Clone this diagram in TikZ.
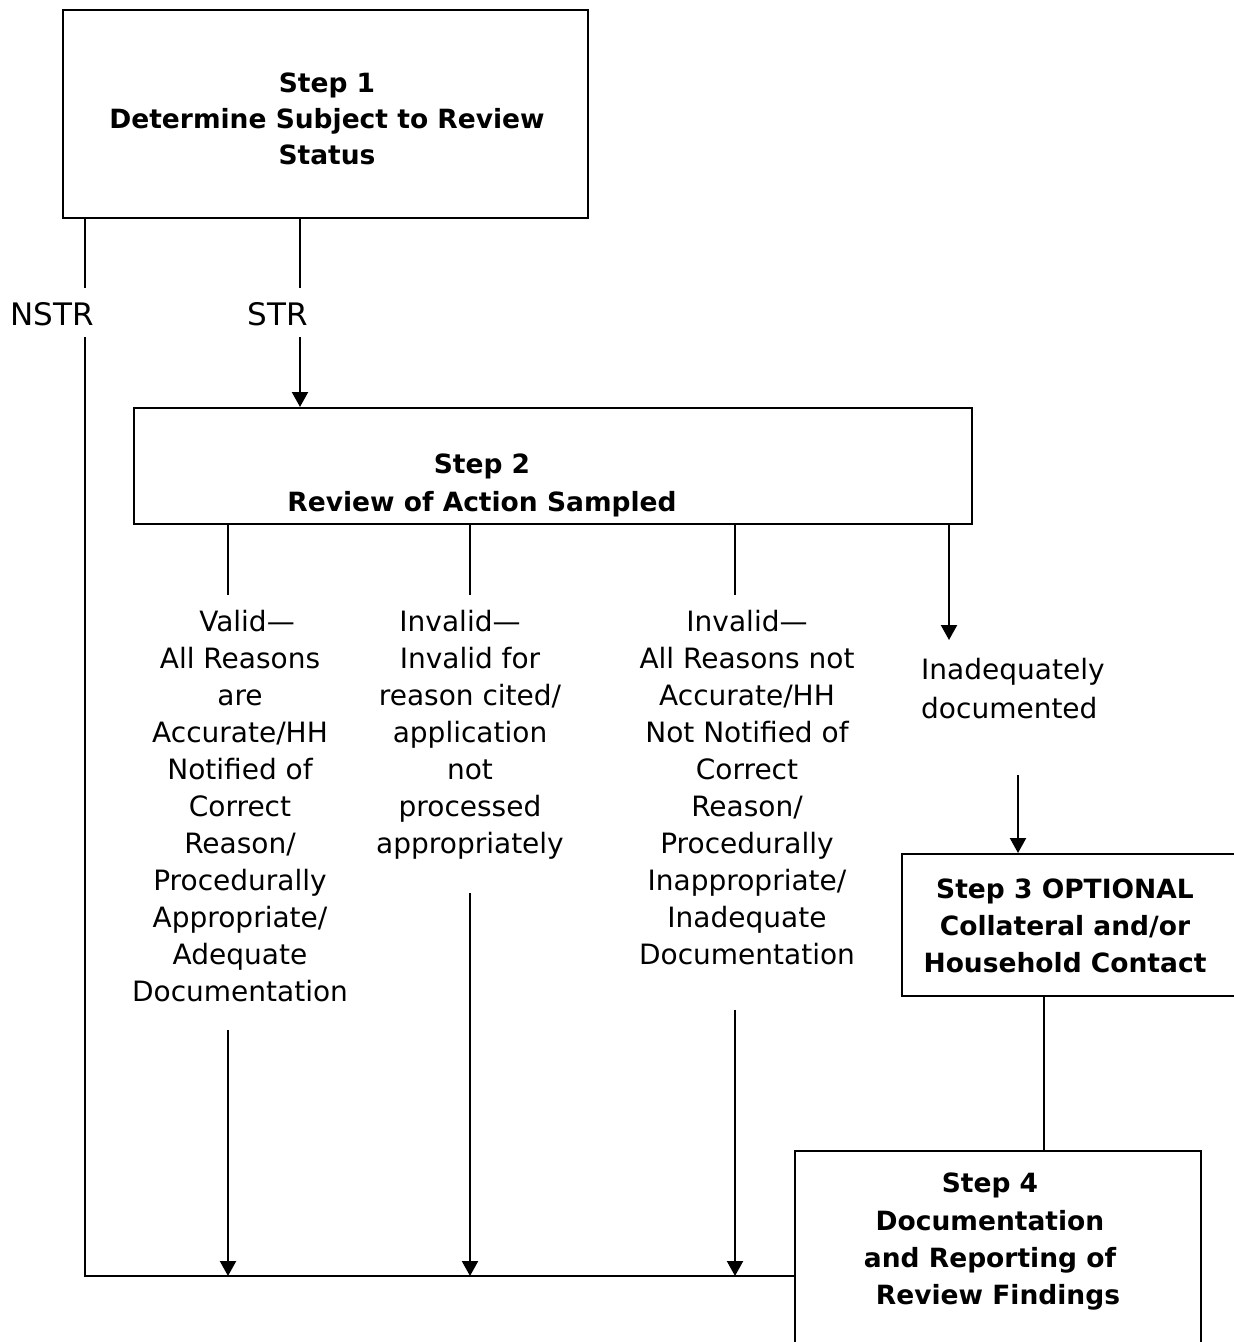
\documentclass[tikz,border=0pt]{standalone}
\usepackage{fontspec}
\setmainfont{DejaVu Sans}
\usetikzlibrary{arrows.meta}
\begin{document}
\begin{tikzpicture}[x=1pt,y=-1pt,
  box/.style={draw,line width=2.4pt,inner sep=0pt,anchor=north west},
  boxtext/.style={font=\bfseries\fontsize{26.5}{37}\selectfont,align=center,inner sep=0pt,anchor=north},
  lbl/.style={font=\fontsize{28}{37.05}\selectfont,align=center,inner sep=0pt,anchor=north},
  branch/.style={font=\fontsize{31}{37}\selectfont,fill=white,inner sep=0pt,text height=37pt,text depth=12pt,anchor=base},
  conn/.style={line width=2.2pt},
  arr/.style={conn,-{Triangle[length=15pt,width=16pt]}}
]
\useasboundingbox (0,0) rectangle (1234,1342);
\clip (0,0) rectangle (1234,1342);

% boxes
\node[box,minimum width=525pt,minimum height=208pt] (b1) at (62,9) {};
\node[box,minimum width=838pt,minimum height=116pt] (b2) at (133,407) {};
\node[box,minimum width=360pt,minimum height=142pt] (b3) at (901,853) {};
\node[box,minimum width=406pt,minimum height=220pt] (b4) at (794,1150) {};

% box texts
\node[boxtext,font=\bfseries\fontsize{26.5}{36}\selectfont] (t1) at (327,73) {Step 1\\Determine Subject to Review\\Status};
\node[boxtext,font=\bfseries\fontsize{26.5}{37.5}\selectfont] (t2) at (482,454) {Step 2\\Review of Action Sampled};
\node[boxtext] (t3) at (1065,879) {Step 3 OPTIONAL\\Collateral and/or\\Household Contact};
\node[boxtext,font=\bfseries\fontsize{26.5}{37.3}\selectfont] (t4) at (990,1173) {Step 4\\Documentation\hspace*{10pt}\\and Reporting of\\\hspace*{16pt}Review Findings};

% outcome labels
\node[lbl] (v1) at (240,609.7) {\hspace*{14pt}Valid—\\All Reasons\hspace*{14pt}\\are\hspace*{12pt}\\Accurate/HH\\Notified of\hspace*{16pt}\\Correct\hspace*{16pt}\\Reason/\\Procedurally\\Appropriate/\\Adequate\\Documentation};
\node[lbl] (v2) at (470,609.7) {Invalid—\hspace*{20pt}\\Invalid for\\reason cited/\hspace*{10pt}\\application\\not\hspace*{28pt}\\processed\hspace*{26pt}\\appropriately};
\node[lbl] (v3) at (747,609.7) {Invalid—\\All Reasons not\hspace*{50pt}\\Accurate/HH\hspace*{32pt}\\Not Notified of\\Correct\hspace*{50pt}\\Reason/\hspace*{56pt}\\Procedurally\\Inappropriate/\\Inadequate\\Documentation};
\node[lbl,align=left,anchor=north west,font=\fontsize{28}{39}\selectfont] (v4) at (921,657.7) {Inadequately\\documented};

% coordinates
\coordinate (sx) at (300,0);
\coordinate (nx) at (85,1276);
\coordinate (s1) at (228,595);
\coordinate (s2) at (470,595);
\coordinate (s3) at (735,595);
\coordinate (s4) at (949,640);
\coordinate (u1) at (228,1030);
\coordinate (u2) at (470,893);
\coordinate (u3) at (735,1010);
\coordinate (u4) at (1018,775);
\coordinate (w) at (1044,0);

% connectors
\draw[conn] (b1.south -| nx) -- (nx) -- (b4.west |- nx);
\draw[arr] (b1.south -| sx) -- (b2.north -| sx);
\draw[conn] (b2.south -| s1) -- (s1);
\draw[conn] (b2.south -| s2) -- (s2);
\draw[conn] (b2.south -| s3) -- (s3);
\draw[arr] (b2.south -| s4) -- (s4);
\draw[arr] (u1) -- (u1 |- nx);
\draw[arr] (u2) -- (u2 |- nx);
\draw[arr] (u3) -- (u3 |- nx);
\draw[arr] (u4) -- (b3.north -| u4);
\draw[conn] (b3.south -| w) -- (b4.north -| w);

% branch labels
\node[branch] (nstr) at (52,325) {NSTR};
\node[branch] (str) at (278,325) {STR};
\end{tikzpicture}
\end{document}
